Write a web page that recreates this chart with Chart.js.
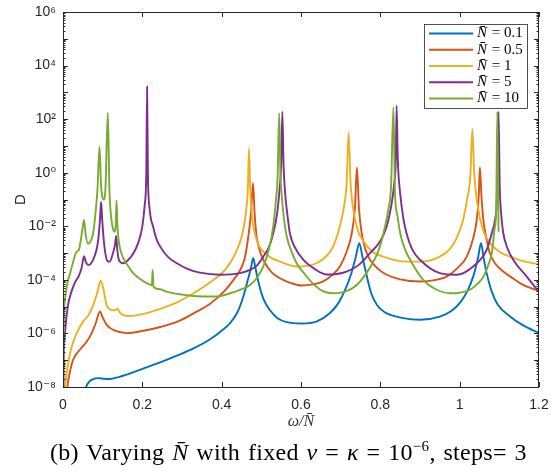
<!DOCTYPE html>
<html>
<head>
<meta charset="utf-8">
<script src="https://cdn.jsdelivr.net/npm/chart.js@4.4.0/dist/chart.umd.min.js"></script>
<style>
    html, body { margin: 0; padding: 0; background: #ffffff; }
    #wrap { position: relative; width: 551px; height: 474px; }
    #caption {
        position: absolute; left: 50px; top: 438px;
        font-family: "Liberation Serif", "DejaVu Serif", serif;
        font-size: 24px; letter-spacing: 0.3px; word-spacing: 1.5px;
        color: #000000; white-space: nowrap;
    }
    #caption sup { font-size: 15px; }
</style>
</head>
<body>
<div id="wrap">
    <canvas id="graficaD" width="551" height="474"></canvas>
    <div id="caption">(b) Varying <i>N̄</i> with fixed <i>ν</i> = <i>κ</i> = 10<sup>−6</sup>, steps= 3</div>
</div>
<script>
// Axis ticks:
const xTicks = [0, 0.2, 0.4, 0.6, 0.8, 1, 1.2];
const yExponents = [-8, -6, -4, -2, 0, 2, 4, 6];

// Legend labels (N bar values):
const nLabels = ["0.1", "0.5", "1", "5", "10"];
const lineColors = ["#0072BD", "#D95319", "#EDB120", "#7E2F8E", "#77AC30"];

// omega / N bar, and log10(D):
const xN01 = [0.045, 0.058, 0.066, 0.076, 0.089, 0.103, 0.118, 0.14, 0.16, 0.202, 0.245, 0.287, 0.329, 0.371, 0.40, 0.421, 0.44, 0.455, 0.466, 0.474, 0.4795, 0.485, 0.493, 0.505, 0.52, 0.54, 0.564, 0.602, 0.639, 0.673, 0.695, 0.712, 0.727, 0.738, 0.747, 0.755, 0.765, 0.777, 0.792, 0.81, 0.858, 0.9, 0.95, 0.98, 1.0, 1.02, 1.034, 1.046, 1.054, 1.06, 1.068, 1.08, 1.095, 1.127, 1.16, 1.2];
const dN01 = [-8.6, -8.0, -7.8, -7.71, -7.67, -7.69, -7.7, -7.63, -7.54, -7.31, -7.08, -6.83, -6.56, -6.22, -5.9, -5.62, -5.2, -4.6, -4.0, -3.55, -3.18, -3.55, -4.1, -4.7, -5.1, -5.42, -5.58, -5.63, -5.56, -5.24, -4.85, -4.35, -3.75, -3.15, -2.63, -3.15, -3.8, -4.5, -4.95, -5.2, -5.43, -5.49, -5.37, -5.15, -4.87, -4.4, -3.88, -3.2, -2.63, -3.15, -3.75, -4.4, -4.9, -5.37, -5.7, -5.98];

const xN05 = [0.008, 0.011, 0.018, 0.025, 0.043, 0.06, 0.072, 0.083, 0.093, 0.1, 0.11, 0.127, 0.161, 0.202, 0.245, 0.29, 0.329, 0.37, 0.408, 0.43, 0.446, 0.458, 0.467, 0.474, 0.479, 0.483, 0.488, 0.496, 0.505, 0.525, 0.547, 0.575, 0.602, 0.63, 0.656, 0.68, 0.698, 0.715, 0.728, 0.736, 0.741, 0.746, 0.753, 0.762, 0.774, 0.795, 0.816, 0.85, 0.9, 0.94, 0.967, 0.995, 1.018, 1.035, 1.043, 1.048, 1.051, 1.055, 1.06, 1.068, 1.076, 1.09, 1.11, 1.135, 1.16, 1.2];
const dN05 = [-8.6, -8.0, -7.4, -7.0, -6.6, -6.3, -6.0, -5.6, -5.18, -5.4, -5.68, -5.87, -5.99, -5.9, -5.76, -5.55, -5.25, -4.9, -4.4, -4.0, -3.65, -3.2, -2.4, -1.5, -0.39, -1.5, -2.38, -2.9, -3.25, -3.7, -3.94, -4.12, -4.21, -4.17, -4.06, -3.8, -3.5, -2.95, -2.26, -1.3, 0.2, -1.3, -2.26, -2.85, -3.25, -3.6, -3.81, -3.98, -4.06, -4.0, -3.88, -3.55, -3.13, -2.4, -1.76, -0.9, 0.2, -0.9, -1.8, -2.5, -3.0, -3.4, -3.69, -3.95, -4.19, -4.42];

const xN1 = [0.002, 0.005, 0.012, 0.02, 0.034, 0.051, 0.065, 0.076, 0.086, 0.095, 0.102, 0.11, 0.122, 0.132, 0.137, 0.145, 0.165, 0.2, 0.245, 0.29, 0.329, 0.37, 0.41, 0.435, 0.452, 0.461, 0.466, 0.469, 0.472, 0.477, 0.485, 0.495, 0.505, 0.525, 0.547, 0.589, 0.615, 0.639, 0.665, 0.681, 0.698, 0.708, 0.715, 0.72, 0.725, 0.732, 0.742, 0.757, 0.78, 0.807, 0.85, 0.9, 0.95, 0.975, 0.992, 1.008, 1.018, 1.027, 1.032, 1.037, 1.045, 1.058, 1.075, 1.1, 1.13, 1.16, 1.2];
const dN1 = [-8.6, -8.0, -7.2, -6.6, -6.0, -5.55, -5.3, -4.95, -4.5, -4.03, -4.35, -4.95, -5.12, -5.14, -5.07, -5.25, -5.35, -5.28, -5.08, -4.82, -4.5, -4.1, -3.6, -3.0, -2.3, -1.5, -0.6, 0.91, -0.6, -1.7, -2.35, -2.75, -2.94, -3.18, -3.32, -3.5, -3.48, -3.38, -3.1, -2.76, -2.0, -1.3, -0.4, 1.5, -0.4, -1.39, -2.1, -2.55, -2.95, -3.13, -3.3, -3.32, -3.13, -2.85, -2.45, -1.8, -1.05, -0.1, 1.62, -0.1, -1.2, -2.1, -2.6, -2.95, -3.15, -3.3, -3.42];

const xN5 = [0.0, 0.002, 0.006, 0.012, 0.02, 0.03, 0.04, 0.047, 0.053, 0.058, 0.064, 0.07, 0.08, 0.088, 0.093, 0.096, 0.099, 0.104, 0.112, 0.118, 0.126, 0.131, 0.134, 0.137, 0.142, 0.152, 0.165, 0.178, 0.19, 0.2, 0.206, 0.21, 0.212, 0.214, 0.218, 0.222, 0.226, 0.235, 0.245, 0.265, 0.287, 0.315, 0.345, 0.396, 0.446, 0.471, 0.49, 0.505, 0.52, 0.53, 0.54, 0.546, 0.55, 0.553, 0.556, 0.56, 0.566, 0.572, 0.585, 0.606, 0.635, 0.665, 0.69, 0.715, 0.745, 0.774, 0.8, 0.816, 0.828, 0.835, 0.839, 0.841, 0.844, 0.85, 0.858, 0.866, 0.88, 0.9, 0.95, 0.992, 1.034, 1.068, 1.082, 1.089, 1.094, 1.098, 1.101, 1.105, 1.11, 1.12, 1.135, 1.169, 1.2];
const dN5 = [-9, -6.8, -5.8, -5.0, -4.5, -4.1, -3.85, -3.55, -3.12, -3.35, -3.45, -3.4, -3.1, -2.6, -1.8, -1.08, -1.8, -2.7, -3.3, -3.32, -3.0, -2.7, -2.36, -2.9, -3.3, -3.38, -3.25, -3.0, -2.6, -2.0, -1.2, 0.0, 3.21, 0.0, -1.3, -1.75, -1.95, -2.45, -2.76, -3.15, -3.38, -3.6, -3.73, -3.81, -3.75, -3.63, -3.45, -3.13, -2.75, -2.26, -1.5, -0.6, 0.3, 2.28, 0.3, -0.77, -1.6, -2.26, -2.8, -3.25, -3.6, -3.8, -3.78, -3.69, -3.45, -3.0, -2.55, -2.01, -1.2, -0.4, 0.5, 2.5, 0.5, -0.77, -1.7, -2.26, -2.85, -3.25, -3.75, -3.81, -3.5, -2.88, -2.2, -1.76, -0.9, 2.28, -0.5, -1.6, -2.26, -2.8, -3.25, -3.88, -4.45];

const xN10 = [0.0, 0.002, 0.005, 0.01, 0.018, 0.028, 0.034, 0.04, 0.045, 0.05, 0.053, 0.057, 0.063, 0.07, 0.076, 0.082, 0.087, 0.092, 0.096, 0.1, 0.103, 0.107, 0.113, 0.117, 0.121, 0.126, 0.131, 0.133, 0.135, 0.137, 0.14, 0.145, 0.152, 0.165, 0.177, 0.195, 0.211, 0.224, 0.226, 0.228, 0.245, 0.261, 0.3, 0.328, 0.387, 0.421, 0.446, 0.471, 0.49, 0.505, 0.52, 0.53, 0.537, 0.541, 0.545, 0.548, 0.551, 0.557, 0.564, 0.575, 0.589, 0.61, 0.631, 0.655, 0.681, 0.71, 0.74, 0.765, 0.785, 0.799, 0.812, 0.82, 0.827, 0.833, 0.837, 0.843, 0.85, 0.862, 0.875, 0.908, 0.94, 0.976, 1.0, 1.026, 1.045, 1.06, 1.072, 1.081, 1.088, 1.092, 1.095, 1.098];
const dN10 = [-9, -5.6, -4.75, -4.2, -3.75, -3.2, -2.95, -2.88, -2.5, -2.0, -1.76, -2.3, -2.65, -2.55, -2.26, -1.5, -0.6, 0.97, -0.5, -0.95, -1.0, -0.6, 2.24, -0.6, -1.6, -2.1, -2.2, -1.9, -1.04, -1.9, -2.5, -2.9, -3.19, -3.5, -3.75, -3.98, -4.12, -4.2, -3.63, -4.25, -4.35, -4.44, -4.55, -4.6, -4.62, -4.5, -4.37, -4.2, -3.9, -3.5, -2.8, -2.01, -1.0, -0.15, 2.22, 0.0, -0.77, -1.7, -2.38, -2.9, -3.38, -3.8, -4.15, -4.42, -4.5, -4.45, -4.2, -3.75, -3.25, -2.76, -2.0, -1.39, -0.5, 2.44, -0.77, -1.6, -2.26, -2.85, -3.25, -4.0, -4.35, -4.5, -4.48, -4.37, -4.15, -3.88, -3.45, -3.0, -2.1, -1.39, 2.28, -2.2];

const xSeries = [xN01, xN05, xN1, xN5, xN10];
const dSeries = [dN01, dN05, dN1, dN5, dN10];

const axisColor = "#262626";
const SUP = {"-": "\u207B", "0": "\u2070", "1": "\u00B9", "2": "\u00B2", "3": "\u00B3", "4": "\u2074", "5": "\u2075", "6": "\u2076", "7": "\u2077", "8": "\u2078", "9": "\u2079"};

// Exponent as superscript text:
function powerLabel(exp)
{
    let s = "";
    String(exp).split("").forEach(function (c) { s += SUP[c]; });
    return "10" + s;
}

// Datasets from the arrays:
function buildDatasets()
{
    const sets = [];
    for (let i = 0; i < xSeries.length; i++)
    {
        sets.push({
            label: nLabels[i],
            data: xSeries[i].map(function (x, k) { return {x: x, y: Math.pow(10, dSeries[i][k])}; }),
            borderColor: lineColors[i],
            borderWidth: 1.9,
            pointRadius: 0,
            fill: false,
            cubicInterpolationMode: "monotone",
            order: xSeries.length - i
        });
    }
    return sets;
}

// Box, inward ticks and legend (MATLAB look):
const boxPlugin = {
    id: "boxPlugin",
    afterDatasetsDraw: function (chart)
    {
        const ctx = chart.ctx;
        const a = chart.chartArea;
        const xs = chart.scales.x;
        const ys = chart.scales.y;

        ctx.save();
        ctx.strokeStyle = axisColor;
        ctx.lineWidth = 1;
        ctx.strokeRect(a.left + 0.5, a.top + 0.5, a.right - a.left - 1, a.bottom - a.top);

        ctx.beginPath();
        xTicks.forEach(function (t)
        {
            const px = Math.round(xs.getPixelForValue(t)) + 0.5;
            ctx.moveTo(px, a.bottom); ctx.lineTo(px, a.bottom - 5);
            ctx.moveTo(px, a.top); ctx.lineTo(px, a.top + 5);
        });
        for (let e = -8; e <= 6; e++)
        {
            const py = Math.round(ys.getPixelForValue(Math.pow(10, e))) + 0.5;
            ctx.moveTo(a.left, py); ctx.lineTo(a.left + 5, py);
            ctx.moveTo(a.right, py); ctx.lineTo(a.right - 5, py);
            if (e < 6)
            {
                for (let m = 2; m <= 9; m++)
                {
                    const pm = Math.round(ys.getPixelForValue(m * Math.pow(10, e))) + 0.5;
                    ctx.moveTo(a.left, pm); ctx.lineTo(a.left + 2.5, pm);
                    ctx.moveTo(a.right, pm); ctx.lineTo(a.right - 2.5, pm);
                }
            }
        }
        ctx.stroke();

        // Legend:
        const lx = 424, ly = 24, lw = 103, lh = 84;
        ctx.fillStyle = "#ffffff";
        ctx.fillRect(lx, ly, lw, lh);
        ctx.lineWidth = 0.8;
        ctx.strokeRect(lx + 0.5, ly + 0.5, lw, lh);
        chart.data.datasets.forEach(function (ds, i)
        {
            const y = 33.5 + i * 16.25;
            ctx.strokeStyle = ds.borderColor;
            ctx.lineWidth = 2;
            ctx.beginPath();
            ctx.moveTo(429, y); ctx.lineTo(473, y);
            ctx.stroke();
            ctx.fillStyle = "#000000";
            ctx.textBaseline = "middle";
            ctx.font = "italic 15px 'Liberation Serif'";
            ctx.fillText("N\u0304", 477, y);
            const w = ctx.measureText("N").width;
            ctx.font = "15px 'Liberation Serif'";
            ctx.fillText(" = " + ds.label, 477 + w + 1, y);
        });
        ctx.restore();
    }
};

// Draw chart:
function drawChart(canvas)
{
    const ctx = document.getElementById(canvas).getContext("2d");
    const tickFont = {family: "'Liberation Sans', 'DejaVu Sans', sans-serif", size: 14};

    new Chart(ctx, {
        type: "line",
        data: { datasets: buildDatasets() },
        options: {
            responsive: false,
            animation: false,
            devicePixelRatio: 1,
            layout: { padding: { left: 0, right: 12, top: 12, bottom: 0 } },
            plugins: { legend: { display: false }, tooltip: { enabled: false } },
            scales: {
                x: {
                    type: "linear",
                    min: 0,
                    max: 1.2,
                    afterBuildTicks: function (scale) { scale.ticks = xTicks.map(function (v) { return {value: v}; }); },
                    afterFit: function (scale)
                    {
                        scale.height = 87;
                        scale.paddingLeft = 0;
                        scale.paddingRight = 0;
                    },
                    grid: { display: false, drawTicks: false },
                    border: { display: false },
                    ticks: {
                        color: axisColor, font: tickFont, padding: 10, maxRotation: 0,
                        callback: function (v) { return String(parseFloat(v.toFixed(1))); }
                    },
                    title: {
                        display: true, text: "\u03C9/N\u0304", color: "#333333",
                        font: {family: "'Liberation Serif', serif", size: 16, style: "italic"},
                        padding: { top: 0, bottom: 43 }
                    }
                },
                y: {
                    type: "logarithmic",
                    min: 1e-8,
                    max: 1e6,
                    afterBuildTicks: function (scale) { scale.ticks = yExponents.map(function (e) { return {value: Math.pow(10, e)}; }); },
                    afterFit: function (scale)
                    {
                        scale.width = 63;
                        scale.paddingTop = 0;
                        scale.paddingBottom = 0;
                    },
                    grid: { display: false, drawTicks: false },
                    border: { display: false },
                    ticks: {
                        color: axisColor, font: tickFont, padding: 7,
                        callback: function (v) { return powerLabel(Math.round(Math.log10(v))); }
                    },
                    title: {
                        display: true, text: "D", color: axisColor,
                        font: {family: "'Liberation Sans', sans-serif", size: 15},
                        padding: { top: 12, bottom: 0 }
                    }
                }
            }
        },
        plugins: [boxPlugin]
    });
}

drawChart("graficaD");
</script>
</body>
</html>
